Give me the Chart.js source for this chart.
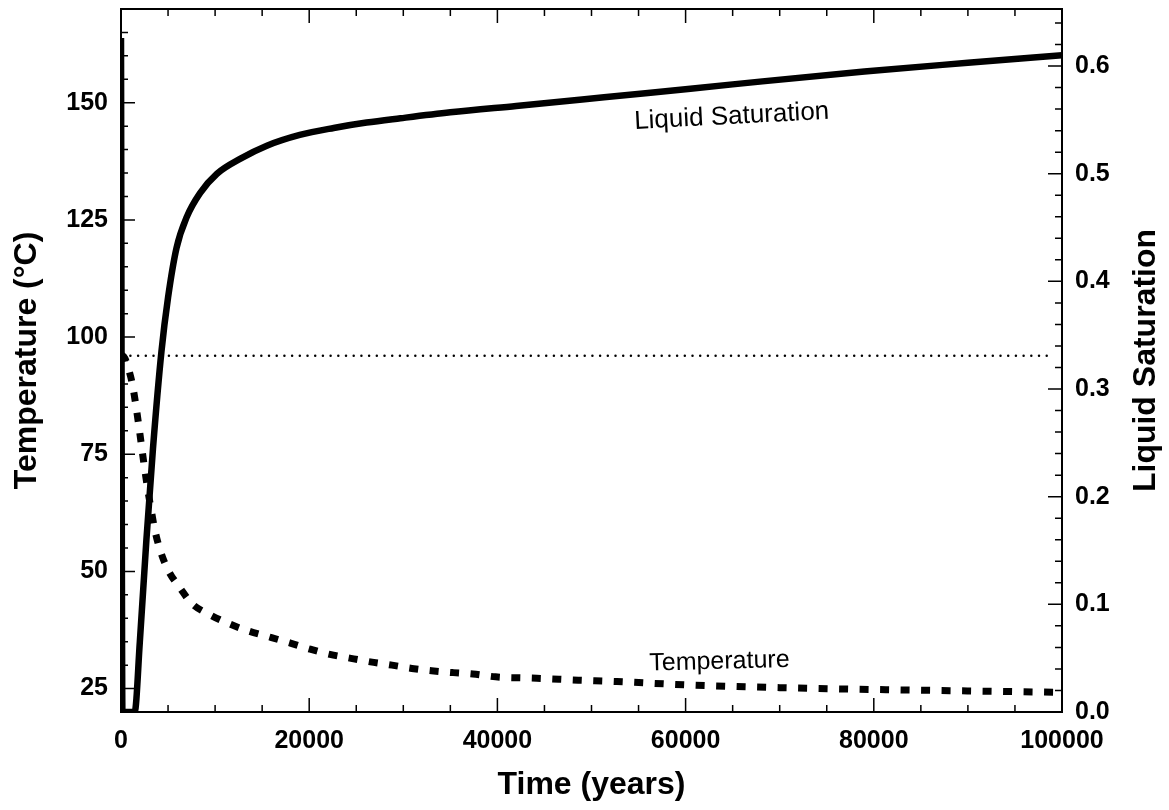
<!DOCTYPE html>
<html lang="en">
<head>
  <meta charset="UTF-8" />
  <title>Temperature and Liquid Saturation vs Time</title>
  <script src="https://cdn.jsdelivr.net/npm/chart.js"></script>
  <style>
    html, body {
      margin: 0;
      padding: 0;
      background: #fff;
    }
    canvas {
      display: block;
    }
  </style>
</head>
<body>
  <canvas id="satTempChart" width="1169" height="810"></canvas>

  <script>
    // Temperature history (deg C)
    const tempYears = [0, 400, 800, 1200, 1600, 2000, 2400, 2800, 3200, 3600, 4150, 5000, 6300, 7500,
      9500, 11400, 13500, 15600, 18000, 20100, 22200, 24300, 26500, 28800, 30900, 33000, 35300,
      37400, 39800, 44200, 48600, 52700, 60000, 70000, 80000, 90000, 100000];
    const tempValues = [96.3, 95.5, 93.2, 90.0, 85.2, 79.5, 73.5, 68.0, 63.2, 58.8, 54.6, 50.3, 46.4, 43.2,
      40.7, 38.9, 37.3, 36.1, 34.7, 33.4, 32.3, 31.5, 30.7, 30.0, 29.3, 28.8, 28.4,
      28.1, 27.5, 27.2, 26.8, 26.5, 25.8, 25.2, 24.8, 24.5, 24.2];

    // Liquid saturation history
    const satYears = [0, 150, 1450, 2000, 2700, 3400, 4300, 5000, 5900, 7000, 8400, 10200, 12700,
      15500, 19000, 22600, 26100, 29700, 35000, 42000, 49000, 56000, 65000, 79000, 90000, 100000];
    const satValues = [0.626, 0, 0, 0.065, 0.160, 0.245, 0.335, 0.385, 0.431, 0.460, 0.482, 0.500, 0.514,
      0.526, 0.536, 0.5425, 0.5475, 0.5515, 0.557, 0.563, 0.569, 0.575, 0.583, 0.595, 0.603, 0.610];

    // boiling point reference line
    const boilingYears = [1000, 99000];
    const boilingTemp = 96;

    const timeTicks = [0, 20000, 40000, 60000, 80000, 100000];
    const tempTicks = [25, 50, 75, 100, 125, 150];
    const satTicks = [0, 0.1, 0.2, 0.3, 0.4, 0.5, 0.6];

    const FONT = "'Liberation Sans', Arial, Helvetica, sans-serif";
    Chart.defaults.font.family = FONT;
    Chart.defaults.color = '#000';

    const toPoints = (xs, ys) => xs.map((x, i) => ({ x: x, y: ys[i] }));

    // fixed scale boxes so the plot frame lands in the same place every time
    const fixBox = size => axis => {
      if (axis.isHorizontal()) axis.height = size; else axis.width = size;
      axis.paddingTop = axis.paddingBottom = axis.paddingLeft = axis.paddingRight = 0;
    };

    // box outline plus inward major/minor tick marks on all four sides
    const frameTicks = {
      id: 'frameTicks',
      afterDraw(chart) {
        const { ctx, chartArea: a, scales } = chart;
        ctx.save();
        ctx.strokeStyle = '#000';
        ctx.lineWidth = 2;
        ctx.strokeRect(a.left, a.top, a.right - a.left, a.bottom - a.top);

        ctx.lineWidth = 1.5;
        ctx.beginPath();
        for (let i = 1; i < 20; i++) {
          const x = scales.x.getPixelForValue(i * 5000);
          const len = i % 4 === 0 ? 14 : 7;
          ctx.moveTo(x, a.bottom); ctx.lineTo(x, a.bottom - len);
          ctx.moveTo(x, a.top); ctx.lineTo(x, a.top + len);
        }
        for (let i = 5; i < 34; i++) {
          const y = scales.y.getPixelForValue(i * 5);
          const len = i % 5 === 0 ? 14 : 7;
          ctx.moveTo(a.left, y); ctx.lineTo(a.left + len, y);
        }
        for (let i = 1; i <= 32; i++) {
          const y = scales.y1.getPixelForValue(i * 0.02);
          const len = i % 5 === 0 ? 14 : 7;
          ctx.moveTo(a.right, y); ctx.lineTo(a.right - len, y);
        }
        ctx.stroke();
        ctx.restore();
      }
    };

    // curve labels and the right-hand axis title (reads bottom to top)
    const curveLabels = {
      id: 'curveLabels',
      afterDraw(chart) {
        const { ctx, chartArea: a, scales } = chart;
        ctx.save();
        ctx.fillStyle = '#000';
        ctx.textAlign = 'center';
        ctx.textBaseline = 'middle';

        ctx.font = '26px ' + FONT;
        ctx.save();
        ctx.translate(scales.x.getPixelForValue(64900), scales.y1.getPixelForValue(0.553));
        ctx.rotate(-3 * Math.PI / 180);
        ctx.fillText('Liquid Saturation', 0, 0);
        ctx.restore();

        ctx.font = '25px ' + FONT;
        ctx.save();
        ctx.translate(scales.x.getPixelForValue(63600), scales.y.getPixelForValue(30.7));
        ctx.rotate(-1.5 * Math.PI / 180);
        ctx.fillText('Temperature', 0, 0);
        ctx.restore();

        ctx.font = 'bold 32px ' + FONT;
        ctx.translate(1146, (a.top + a.bottom) / 2);
        ctx.rotate(-Math.PI / 2);
        ctx.fillText('Liquid Saturation', 0, 0);
        ctx.restore();
      }
    };

    const tickFont = { size: 25, weight: 'bold' };
    const titleFont = { size: 32, weight: 'bold' };

    new Chart(document.getElementById('satTempChart').getContext('2d'), {
      type: 'line',
      data: {
        datasets: [
          {
            label: 'Liquid Saturation',
            data: toPoints(satYears, satValues),
            yAxisID: 'y1',
            borderColor: '#000',
            borderWidth: 6.5,
            cubicInterpolationMode: 'monotone',
            pointRadius: 0
          },
          {
            label: 'Temperature',
            data: toPoints(tempYears, tempValues),
            yAxisID: 'y',
            borderColor: '#000',
            borderWidth: 7,
            borderDash: [9, 11.5],
            borderCapStyle: 'butt',
            cubicInterpolationMode: 'monotone',
            pointRadius: 0
          },
          {
            label: 'Boiling point',
            data: boilingYears.map(x => ({ x: x, y: boilingTemp })),
            yAxisID: 'y',
            borderColor: '#000',
            borderWidth: 2.5,
            borderDash: [0, 7.7],
            borderCapStyle: 'round',
            pointRadius: 0
          }
        ]
      },
      options: {
        responsive: false,
        animation: false,
        layout: { padding: { top: 9, left: 0, right: 0, bottom: 0 } },
        plugins: {
          legend: { display: false },
          tooltip: { enabled: false }
        },
        scales: {
          x: {
            type: 'linear',
            min: 0,
            max: 100000,
            grid: { display: false, drawTicks: false },
            border: { display: false },
            afterBuildTicks: axis => { axis.ticks = timeTicks.map(v => ({ value: v })); },
            afterFit: fixBox(98),
            ticks: {
              padding: 14,
              font: tickFont,
              maxRotation: 0,
              autoSkip: false,
              callback: v => String(v)
            },
            title: {
              display: true,
              text: 'Time (years)',
              font: titleFont,
              padding: { top: 0, bottom: 6 }
            }
          },
          y: {
            position: 'left',
            min: 20,
            max: 170,
            grid: { display: false, drawTicks: false },
            border: { display: false },
            afterBuildTicks: axis => { axis.ticks = tempTicks.map(v => ({ value: v })); },
            afterFit: fixBox(121),
            ticks: { padding: 13, font: tickFont },
            title: {
              display: true,
              text: 'Temperature (°C)',
              font: titleFont,
              padding: { top: 8, bottom: 0 }
            }
          },
          y1: {
            position: 'right',
            min: 0,
            max: 0.653,
            grid: { display: false, drawTicks: false },
            border: { display: false },
            afterBuildTicks: axis => { axis.ticks = satTicks.map(v => ({ value: v })); },
            afterFit: fixBox(107),
            ticks: {
              padding: 13,
              font: tickFont,
              callback: v => v.toFixed(1)
            }
          }
        }
      },
      plugins: [frameTicks, curveLabels]
    });
  </script>
</body>
</html>
